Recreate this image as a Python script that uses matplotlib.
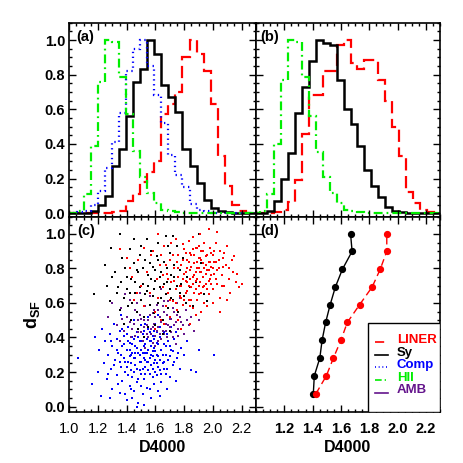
import matplotlib
matplotlib.use('Agg')
import matplotlib.pyplot as plt
from matplotlib.patches import Rectangle
from matplotlib.ticker import MultipleLocator, FormatStrFormatter, NullFormatter
import numpy as np

plt.rcParams['font.family'] = ['Liberation Sans', 'DejaVu Sans']
plt.rcParams['mathtext.fontset'] = 'custom'
plt.rcParams['mathtext.rm'] = 'Liberation Sans'
plt.rcParams['mathtext.bf'] = 'Liberation Sans:bold'
plt.rcParams['mathtext.it'] = 'Liberation Sans:italic'

# ---- histogram data, panel (a): D4000 distributions normalised to peak ----
edges_a = [0.99, 1.053, 1.102, 1.151, 1.200, 1.249, 1.298, 1.347, 1.396, 1.445,
           1.494, 1.543, 1.592, 1.641, 1.690, 1.739, 1.788, 1.837, 1.886, 1.935,
           1.984, 2.033, 2.082, 2.131, 2.180, 2.229, 2.31]
liner_a = [0, 0, 0, 0, 0, 0, 0.005, 0.01, 0.07, 0.11, 0.18, 0.24, 0.30, 0.57, 0.63,
           0.70, 0.90, 1.0, 0.92, 0.82, 0.63, 0.33, 0.16, 0.05, 0.01, 0]
sy_a = [0, 0, 0, 0.01, 0.05, 0.10, 0.27, 0.37, 0.56, 0.755, 0.83, 1.0, 0.92, 0.74,
        0.67, 0.585, 0.37, 0.27, 0.175, 0.075, 0.03, 0.015, 0.005, 0, 0, 0]
comp_a = [0, 0.005, 0.01, 0.05, 0.13, 0.26, 0.41, 0.58, 0.82, 0.95, 1.0, 0.85, 0.68,
          0.52, 0.335, 0.22, 0.15, 0.055, 0.02, 0.01, 0, 0, 0, 0, 0, 0]
hii_a = [0, 0.01, 0.11, 0.39, 0.76, 1.0, 0.99, 0.785, 0.57, 0.36, 0.21, 0.115, 0.06,
         0.02, 0.01, 0.005, 0, 0, 0, 0, 0, 0, 0, 0, 0, 0]

# ---- panel (b) ----
edges_b = [0.982, 1.031, 1.080, 1.129, 1.178, 1.227, 1.276, 1.325, 1.374, 1.423,
           1.472, 1.521, 1.570, 1.619, 1.668, 1.717, 1.766, 1.815, 1.864, 1.913,
           1.962, 2.011, 2.060, 2.109, 2.158, 2.207, 2.256, 2.31]
liner_b = [0, 0, 0, 0.005, 0.02, 0.065, 0.19, 0.46, 0.68, 0.68, 0.82, 0.82, 0.97, 1.0,
           0.865, 0.83, 0.885, 0.885, 0.77, 0.65, 0.50, 0.33, 0.12, 0.06, 0.02, 0.005, 0]
sy_b = [0, 0, 0.01, 0.07, 0.20, 0.35, 0.58, 0.73, 0.88, 1.0, 0.985, 0.97, 0.77, 0.60,
        0.515, 0.39, 0.25, 0.155, 0.095, 0.035, 0.012, 0.005, 0, 0, 0, 0, 0]
hii_b = [0, 0.01, 0.11, 0.40, 0.77, 1.0, 0.99, 0.785, 0.56, 0.355, 0.21, 0.115, 0.06,
         0.02, 0.01, 0.005, 0, 0, 0, 0, 0, 0, 0, 0, 0, 0, 0]

# ---- panel (c): D4000 vs d_SF, individual galaxies ----
comp_pts = [(1.06, 0.28), (1.16, 0.13), (1.18, 0.40), (1.20, 0.20), (1.21, 0.33), (1.22, 0.06),
            (1.23, 0.45), (1.24, 0.25), (1.25, 0.38), (1.26, 0.16), (1.27, 0.30), (1.28, 0.42),
            (1.29, 0.22), (1.30, 0.35), (1.30, 0.10), (1.31, 0.48), (1.32, 0.27), (1.33, 0.18),
            (1.33, 0.39), (1.34, 0.31), (1.35, 0.44), (1.35, 0.08), (1.36, 0.23), (1.37, 0.35),
            (1.37, 0.15), (1.38, 0.28), (1.38, 0.41), (1.39, 0.20), (1.40, 0.33), (1.40, 0.04),
            (1.41, 0.26), (1.41, 0.46), (1.42, 0.12), (1.42, 0.37), (1.43, 0.30), (1.43, 0.21),
            (1.44, 0.40), (1.44, 0.17), (1.45, 0.28), (1.45, 0.09), (1.46, 0.35), (1.46, 0.24),
            (1.47, 0.43), (1.47, 0.14), (1.48, 0.31), (1.48, 0.02), (1.49, 0.26), (1.49, 0.38),
            (1.50, 0.19), (1.50, 0.33), (1.51, 0.07), (1.51, 0.42), (1.52, 0.28), (1.52, 0.16),
            (1.53, 0.36), (1.53, 0.23), (1.54, 0.11), (1.54, 0.31), (1.55, 0.45), (1.55, 0.26),
            (1.56, 0.19), (1.56, 0.38), (1.57, 0.05), (1.57, 0.30), (1.58, 0.22), (1.58, 0.41),
            (1.59, 0.13), (1.59, 0.34), (1.60, 0.27), (1.60, 0.48), (1.61, 0.18), (1.61, 0.37),
            (1.62, 0.09), (1.62, 0.29), (1.63, 0.40), (1.63, 0.21), (1.64, 0.33), (1.64, 0.14),
            (1.65, 0.44), (1.65, 0.25), (1.66, 0.36), (1.67, 0.19), (1.67, 0.30), (1.68, 0.42),
            (1.68, 0.10), (1.69, 0.27), (1.70, 0.35), (1.70, 0.17), (1.71, 0.46), (1.72, 0.24),
            (1.72, 0.32), (1.73, 0.39), (1.74, 0.15), (1.75, 0.28), (1.76, 0.41), (1.77, 0.22),
            (1.78, 0.34), (1.80, 0.30), (1.82, 0.38), (1.85, 0.21), (1.88, 0.20), (1.90, 0.33),
            (2.01, 0.30), (1.47, 0.00), (1.52, 0.01), (1.39, 0.07), (1.34, 0.13), (1.28, 0.05),
            (1.63, 0.06), (1.55, 0.52), (1.45, 0.50), (1.36, 0.53), (1.62, 0.53), (1.50, 0.47),
            (1.42, 0.29), (1.58, 0.32), (1.53, 0.27), (1.46, 0.31), (1.49, 0.21), (1.57, 0.38),
            (1.44, 0.36), (1.61, 0.25), (1.40, 0.23), (1.66, 0.22),
            (1.36, 0.30), (1.38, 0.36), (1.39, 0.26), (1.40, 0.42), (1.41, 0.18), (1.42, 0.33),
            (1.43, 0.25), (1.44, 0.31), (1.45, 0.39), (1.45, 0.20), (1.46, 0.28), (1.47, 0.34),
            (1.47, 0.22), (1.48, 0.40), (1.48, 0.16), (1.49, 0.30), (1.50, 0.26), (1.50, 0.38),
            (1.51, 0.22), (1.51, 0.31), (1.52, 0.35), (1.52, 0.44), (1.53, 0.19), (1.53, 0.31),
            (1.54, 0.26), (1.54, 0.39), (1.55, 0.21), (1.55, 0.33), (1.56, 0.28), (1.56, 0.43),
            (1.57, 0.24), (1.57, 0.35), (1.58, 0.17), (1.58, 0.29), (1.59, 0.39), (1.59, 0.25),
            (1.60, 0.32), (1.60, 0.20), (1.61, 0.43), (1.61, 0.30), (1.62, 0.23), (1.62, 0.36),
            (1.63, 0.27), (1.63, 0.46), (1.64, 0.19), (1.64, 0.39), (1.65, 0.30), (1.66, 0.26),
            (1.66, 0.43), (1.67, 0.35), (1.68, 0.22), (1.69, 0.38), (1.70, 0.29), (1.71, 0.33),
            (1.73, 0.26), (1.74, 0.43), (1.76, 0.31), (1.31, 0.24), (1.33, 0.33), (1.29, 0.38),
            (1.27, 0.19), (1.35, 0.26), (1.43, 0.10), (1.50, 0.12), (1.56, 0.10), (1.44, 0.05),
            (1.37, 0.45), (1.53, 0.48), (1.59, 0.44), (1.41, 0.38)]
amb_pts = [(1.27, 0.52), (1.30, 0.60), (1.33, 0.47), (1.36, 0.57), (1.38, 0.44), (1.40, 0.52),
           (1.42, 0.62), (1.43, 0.40), (1.45, 0.48), (1.46, 0.56), (1.48, 0.43), (1.49, 0.66),
           (1.50, 0.51), (1.51, 0.38), (1.52, 0.46), (1.53, 0.58), (1.54, 0.42), (1.55, 0.50),
           (1.56, 0.64), (1.57, 0.45), (1.58, 0.37), (1.58, 0.54), (1.59, 0.48), (1.60, 0.41),
           (1.61, 0.59), (1.62, 0.46), (1.63, 0.52), (1.64, 0.39), (1.64, 0.68), (1.65, 0.44),
           (1.66, 0.55), (1.67, 0.48), (1.68, 0.40), (1.69, 0.61), (1.70, 0.51), (1.71, 0.43),
           (1.72, 0.57), (1.73, 0.47), (1.74, 0.36), (1.75, 0.53), (1.76, 0.45), (1.77, 0.63),
           (1.78, 0.49), (1.80, 0.42), (1.81, 0.56), (1.83, 0.47), (1.85, 0.52), (1.87, 0.44),
           (1.90, 0.50), (1.60, 0.35), (1.53, 0.34), (1.47, 0.60), (1.39, 0.65), (1.35, 0.38),
           (1.44, 0.45), (1.57, 0.42), (1.66, 0.42), (1.62, 0.38), (1.70, 0.46), (1.49, 0.53),
           (1.52, 0.50), (1.54, 0.47), (1.56, 0.53), (1.58, 0.46), (1.60, 0.52), (1.61, 0.44),
           (1.62, 0.56), (1.63, 0.42), (1.64, 0.49), (1.65, 0.58), (1.67, 0.44), (1.68, 0.53),
           (1.69, 0.47), (1.71, 0.51), (1.72, 0.40), (1.73, 0.55), (1.74, 0.49), (1.76, 0.41),
           (1.77, 0.52), (1.79, 0.47), (1.50, 0.43), (1.48, 0.50), (1.46, 0.41), (1.55, 0.40),
           (1.59, 0.56), (1.66, 0.61), (1.75, 0.60), (1.82, 0.50), (1.42, 0.49), (1.37, 0.51)]
sy_pts = [(1.17, 0.65), (1.25, 0.82), (1.26, 0.70), (1.28, 0.61), (1.30, 0.75), (1.32, 0.78),
          (1.33, 0.66), (1.35, 1.00), (1.35, 0.56), (1.36, 0.72), (1.37, 0.86), (1.38, 0.63),
          (1.39, 0.80), (1.40, 0.68), (1.41, 0.58), (1.42, 0.91), (1.43, 0.74), (1.44, 0.60),
          (1.45, 0.97), (1.45, 0.83), (1.46, 0.66), (1.47, 0.55), (1.48, 0.78), (1.49, 0.88),
          (1.50, 0.93), (1.50, 0.62), (1.51, 0.71), (1.52, 0.52), (1.53, 0.85), (1.54, 0.67),
          (1.55, 0.76), (1.56, 0.59), (1.57, 0.90), (1.58, 0.81), (1.58, 0.64), (1.59, 0.54),
          (1.60, 0.73), (1.61, 0.87), (1.62, 0.95), (1.62, 0.60), (1.63, 0.69), (1.64, 0.78),
          (1.65, 0.50), (1.66, 0.84), (1.67, 0.99), (1.67, 0.65), (1.68, 0.72), (1.69, 0.57),
          (1.70, 0.89), (1.71, 0.76), (1.72, 0.99), (1.72, 0.62), (1.73, 0.82), (1.74, 0.68),
          (1.75, 0.93), (1.76, 0.55), (1.77, 0.79), (1.78, 0.71), (1.79, 0.86), (1.80, 0.64),
          (1.81, 0.60), (1.82, 0.75), (1.84, 0.69), (1.85, 0.88), (1.86, 0.58), (1.88, 0.72),
          (1.90, 1.00), (1.92, 0.83), (1.94, 0.65), (1.96, 0.61), (1.55, 0.46), (1.60, 0.47),
          (1.52, 0.40), (1.65, 0.42), (1.70, 0.44), (1.48, 0.45), (1.43, 0.50), (1.38, 0.48),
          (1.42, 0.66), (1.46, 0.72), (1.49, 0.69), (1.51, 0.80), (1.53, 0.65), (1.55, 0.70),
          (1.57, 0.74), (1.59, 0.68), (1.60, 0.79), (1.63, 0.75), (1.64, 0.63), (1.66, 0.71),
          (1.68, 0.80), (1.70, 0.68), (1.71, 0.63), (1.73, 0.75), (1.75, 0.70), (1.77, 0.66),
          (1.62, 0.85), (1.56, 0.83), (1.47, 0.79), (1.40, 0.75), (1.34, 0.69), (1.29, 0.92),
          (1.69, 0.93), (1.54, 0.97)]
liner_pts = [(1.35, 0.91), (1.40, 0.86), (1.42, 0.80), (1.44, 0.75), (1.47, 0.66), (1.45, 0.62),
             (1.48, 0.85), (1.50, 0.70), (1.52, 0.58), (1.54, 0.78), (1.56, 0.66), (1.58, 0.90),
             (1.60, 0.55), (1.61, 0.74), (1.62, 0.63), (1.63, 0.82), (1.64, 0.50), (1.65, 0.69),
             (1.66, 0.93), (1.67, 0.58), (1.68, 0.77), (1.69, 0.66), (1.70, 0.85), (1.70, 0.52),
             (1.71, 0.72), (1.72, 0.61), (1.73, 0.80), (1.74, 0.97), (1.74, 0.68), (1.75, 0.56),
             (1.76, 0.75), (1.76, 0.88), (1.77, 0.64), (1.78, 0.82), (1.78, 0.70), (1.79, 0.59),
             (1.80, 0.91), (1.80, 0.77), (1.81, 0.66), (1.82, 0.85), (1.82, 0.72), (1.83, 0.62),
             (1.83, 0.96), (1.84, 0.79), (1.85, 0.69), (1.85, 0.88), (1.86, 0.57), (1.86, 0.75),
             (1.87, 0.83), (1.87, 0.66), (1.88, 0.92), (1.88, 0.73), (1.89, 0.80), (1.89, 0.62),
             (1.90, 0.86), (1.90, 0.70), (1.91, 0.78), (1.91, 1.00), (1.92, 0.66), (1.92, 0.90),
             (1.93, 0.75), (1.93, 0.83), (1.94, 0.60), (1.94, 0.95), (1.95, 0.71), (1.95, 0.87),
             (1.96, 0.79), (1.97, 0.65), (1.97, 0.84), (1.98, 0.92), (1.98, 0.74), (1.99, 0.81),
             (2.00, 0.68), (2.00, 0.88), (2.01, 0.77), (2.02, 0.95), (2.02, 0.84), (2.03, 0.71),
             (2.04, 0.80), (2.05, 0.90), (2.05, 0.63), (2.06, 0.76), (2.07, 0.86), (2.08, 0.70),
             (2.09, 0.82), (2.10, 0.93), (2.11, 0.74), (2.12, 0.66), (2.13, 0.85), (2.14, 0.78),
             (2.16, 0.72), (2.18, 0.69), (2.20, 0.71), (1.97, 1.03), (2.03, 1.01), (1.86, 0.98),
             (1.78, 0.45), (1.84, 0.48), (1.88, 0.53), (1.92, 0.55), (1.76, 0.50), (1.96, 0.58),
             (2.00, 0.60), (2.05, 0.55), (2.10, 0.62), (1.80, 0.62), (1.84, 0.58), (1.66, 0.48),
             (1.60, 0.45), (1.57, 0.88), (1.52, 0.92), (1.62, 1.00), (1.71, 0.95), (1.79, 0.94),
             (1.84, 0.89), (1.90, 0.93), (1.95, 0.77), (1.99, 0.76), (2.01, 0.84), (1.93, 0.69),
             (1.88, 0.78), (1.82, 0.80), (1.86, 0.71), (1.81, 0.73), (1.91, 0.86), (1.97, 0.73),
             (2.03, 0.79), (2.07, 0.81), (1.89, 0.84), (1.94, 0.80), (1.99, 0.89),
             (1.76, 0.80), (1.77, 0.70), (1.79, 0.85), (1.79, 0.74), (1.81, 0.89), (1.81, 0.78),
             (1.83, 0.70), (1.83, 0.84), (1.84, 0.74), (1.85, 0.81), (1.86, 0.91), (1.87, 0.76),
             (1.87, 0.88), (1.88, 0.68), (1.89, 0.74), (1.90, 0.80), (1.90, 0.65), (1.91, 0.72),
             (1.92, 0.78), (1.92, 0.85), (1.93, 0.90), (1.94, 0.70), (1.95, 0.82), (1.96, 0.88),
             (1.96, 0.68), (1.97, 0.79), (1.98, 0.84), (1.99, 0.71), (2.00, 0.80), (2.01, 0.90),
             (2.02, 0.74), (2.04, 0.85), (2.06, 0.70), (2.08, 0.89), (1.73, 0.73), (1.75, 0.84),
             (1.72, 0.88), (1.69, 0.74), (1.67, 0.82), (1.65, 0.76), (1.64, 0.88), (1.78, 0.63),
             (1.82, 0.67), (1.85, 0.62), (1.89, 0.92), (2.11, 0.80), (2.15, 0.87), (2.17, 0.77),
             (1.74, 0.60), (1.70, 0.62)]

# ---- panel (d): median D4000 in d_SF bins ----
dsf_bins = [0.075, 0.178, 0.281, 0.384, 0.487, 0.590, 0.693, 0.796, 0.899, 1.002]
sy_med = [1.405, 1.412, 1.451, 1.467, 1.492, 1.524, 1.561, 1.611, 1.679, 1.668]
liner_med = [1.424, 1.497, 1.547, 1.600, 1.645, 1.732, 1.821, 1.878, 1.924, 1.924]

legend_labels = ['LINER', 'Sy', 'Comp', 'HII', 'AMB']

RED, BLACK, BLUE, GREEN, PURPLE = '#ff0000', '#000000', '#0000ff', '#00ee00', '#64148c'
DASH = (0, (5.5, 2.5))
DOT = (0, (0.6, 1.6))
DASHDOT = (0, (4.0, 1.8, 0.8, 1.8))

fig = plt.figure(figsize=(4.63, 4.63), dpi=100)
ax_a = fig.add_axes([0.1497, 0.532, 0.4032, 0.419])
ax_b = fig.add_axes([0.5529, 0.532, 0.3974, 0.419])
ax_c = fig.add_axes([0.1497, 0.1108, 0.4032, 0.4212])
ax_d = fig.add_axes([0.5529, 0.1108, 0.3974, 0.4212])

for ax in (ax_a, ax_b, ax_c, ax_d):
    ax.set_xlim(1.0, 2.3)
    ax.xaxis.set_major_locator(MultipleLocator(0.2))
    ax.xaxis.set_minor_locator(MultipleLocator(0.05))
    ax.yaxis.set_major_locator(MultipleLocator(0.2))
    ax.yaxis.set_minor_locator(MultipleLocator(0.05))
    ax.tick_params(which='both', direction='in', top=True, right=True, width=1.0)
    ax.tick_params(which='major', length=4.8)
    ax.tick_params(which='minor', length=2.4)
    ax.tick_params(axis='x', pad=7.5, labelsize=10.5)
    ax.tick_params(axis='y', pad=3, labelsize=10.5)
    for s in ax.spines.values():
        s.set_linewidth(1.2)
for ax in (ax_a, ax_b):
    ax.set_ylim(-0.02, 1.1)
    ax.xaxis.set_major_formatter(NullFormatter())
for ax in (ax_c, ax_d):
    ax.set_ylim(-0.03, 1.1)
for ax in (ax_b, ax_d):
    ax.yaxis.set_major_formatter(NullFormatter())
for ax in (ax_a, ax_c):
    ax.yaxis.set_major_formatter(FormatStrFormatter('%.1f'))
    for lab in ax.get_yticklabels():
        lab.set_fontweight('bold')
ax_c.xaxis.set_major_formatter(FormatStrFormatter('%.1f'))
ax_d.set_xticks([1.2, 1.4, 1.6, 1.8, 2.0, 2.2])
ax_d.xaxis.set_major_formatter(FormatStrFormatter('%.1f'))
for lab in ax_d.get_xticklabels():
    lab.set_fontweight('bold')

# (a)
ax_a.stairs(liner_a, edges_a, color=RED, lw=1.6, linestyle=DASH)
ax_a.stairs(sy_a, edges_a, color=BLACK, lw=1.8)
ax_a.stairs(comp_a, edges_a, color=BLUE, lw=1.6, linestyle=DOT)
ax_a.stairs(hii_a, edges_a, color=GREEN, lw=1.6, linestyle=DASHDOT)

# (b)
ax_b.stairs(liner_b, edges_b, color=RED, lw=1.6, linestyle=DASH)
ax_b.stairs(sy_b, edges_b, color=BLACK, lw=1.8)
ax_b.stairs(hii_b, edges_b, color=GREEN, lw=1.6, linestyle=DASHDOT)

# (c)
for pts, col in ((comp_pts, BLUE), (amb_pts, PURPLE), (sy_pts, BLACK), (liner_pts, RED)):
    arr = np.array(pts)
    ax_c.plot(arr[:, 0], arr[:, 1], 's', color=col, ms=2.1, mew=0)

# (d)
ax_d.plot(sy_med, dsf_bins, '-o', color=BLACK, lw=1.0, ms=4.2)
ax_d.plot(liner_med, dsf_bins, 'o', color=RED, ms=4.2)
ax_d.plot(liner_med, dsf_bins, color=RED, lw=1.0, linestyle=(0, (5, 3)))

# legend drawn as in the original (box glued to the lower-right corner)
ax_d.add_patch(Rectangle((0.61, 0.0), 0.39, 0.453, transform=ax_d.transAxes,
                         facecolor='white', edgecolor='black', lw=1.0, zorder=4))
leg_styles = [(RED, DASH), (BLACK, '-'), (BLUE, DOT), (GREEN, DASHDOT), (PURPLE, '-')]
for i, (lab, (col, ls)) in enumerate(zip(legend_labels, leg_styles)):
    yb = 0.352 - i * 0.0645
    ax_d.plot([0.647, 0.719], [yb + 0.004, yb + 0.004], transform=ax_d.transAxes,
              color=col, lw=1.2, linestyle=ls, zorder=5)
    ax_d.text(0.765, yb, lab, transform=ax_d.transAxes, color=col, fontsize=9.5,
              fontweight='bold', ha='left', va='baseline', zorder=5)

for ax, lab, xx in ((ax_a, '(a)', 0.036), (ax_b, '(b)', 0.025),
                    (ax_c, '(c)', 0.044), (ax_d, '(d)', 0.025)):
    ax.text(xx, 0.963, lab, transform=ax.transAxes, fontsize=10.5, fontweight='bold',
            ha='left', va='top')

ax_c.set_xlabel('D4000', fontsize=11.5, fontweight='bold', labelpad=3)
ax_d.set_xlabel('D4000', fontsize=11.5, fontweight='bold', labelpad=3)
ax_c.set_ylabel(r'$\mathbf{d_{SF}}$', fontsize=13, labelpad=2)

fig.savefig('out.png', dpi=100)
